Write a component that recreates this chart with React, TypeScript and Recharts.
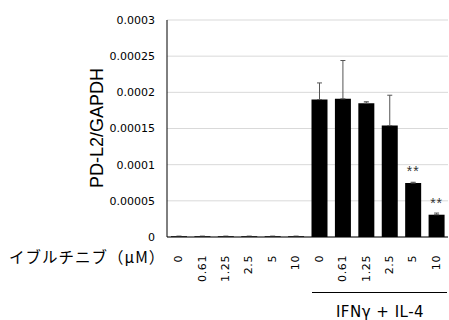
import { BarChart, Bar, XAxis, YAxis, CartesianGrid, ErrorBar, LabelList } from "recharts";

// ibrutinib dose per bar (two groups: no stimulation, IFNγ + IL-4)
const doses = ["0", "0.61", "1.25", "2.5", "5", "10", "0", "0.61", "1.25", "2.5", "5", "10"];
const ratio = [0.000001, 0.000001, 0.000001, 0.000001, 0.000001, 0.000001, 0.00019, 0.000191, 0.000185, 0.000154, 0.0000746, 0.0000308];
const errUp = [0, 0, 0, 0, 0, 0, 0.000023, 0.000053, 0.000002, 0.000042, 0.0000011, 0.0000023];
const sig = ["", "", "", "", "", "", "", "", "", "", "**", "**"];
const yTicks = [0, 0.00005, 0.0001, 0.00015, 0.0002, 0.00025, 0.0003];
const yTickLabels = ["0", "0.00005", "0.0001", "0.00015", "0.0002", "0.00025", "0.0003"];

const rows = doses.map((d, i) => ({
  key: "c" + i,
  dose: d,
  value: ratio[i],
  err: [0, errUp[i]],
  sig: sig[i],
}));

const tickFont = "'DejaVu Sans', sans-serif";

function DoseTick(props: any) {
  const { x, y, payload } = props;
  return (
    <text
      x={x}
      y={y}
      transform={`rotate(-90, ${x}, ${y})`}
      textAnchor="end"
      dominantBaseline="central"
      fontFamily={tickFont}
      fontSize={11}
      letterSpacing={0.6}
      fill="#000"
    >
      {doses[payload.index]}
    </text>
  );
}

function SigLabel(props: any) {
  const { x, y, width, value } = props;
  if (!value) return null;
  return (
    <text
      x={x + width / 2}
      y={y - 7}
      textAnchor="middle"
      fontFamily="'Liberation Sans', Arial, sans-serif"
      fontSize={14}
      letterSpacing={1}
      fill="#333"
    >
      {value}
    </text>
  );
}

export default function App() {
  return (
    <div style={{ position: "absolute", left: 0, top: 0, width: 449, height: 320, background: "#fff" }}>
      <BarChart
        width={449}
        height={320}
        data={rows}
        margin={{ top: 20, right: 1, bottom: 0, left: 0 }}
        barSize={16}
      >
        <CartesianGrid vertical={false} stroke="#d9d9d9" />
        <XAxis
          dataKey="key"
          height={83}
          axisLine={{ stroke: "#000" }}
          tickLine={false}
          tickSize={0}
          tickMargin={18}
          interval={0}
          tick={<DoseTick />}
        />
        <YAxis
          width={167}
          domain={[0, 0.0003]}
          ticks={yTicks}
          tickFormatter={(v: number) => yTickLabels[yTicks.indexOf(v)] ?? String(v)}
          axisLine={{ stroke: "#000" }}
          tickLine={false}
          tickSize={0}
          tickMargin={12}
          tick={{ fontFamily: tickFont, fontSize: 11, fill: "#000" }}
        />
        <Bar dataKey="value" fill="#000" isAnimationActive={false}>
          <ErrorBar dataKey="err" width={2.5} stroke="#555" strokeWidth={1} />
          <LabelList dataKey="sig" content={<SigLabel />} />
        </Bar>
      </BarChart>
      <svg width={449} height={320} style={{ position: "absolute", left: 0, top: 0, pointerEvents: "none" }}>
        <text
          x={97}
          y={128}
          transform="rotate(-90, 97, 128)"
          textAnchor="middle"
          dominantBaseline="central"
          fontFamily="'Liberation Sans', Arial, sans-serif"
          fontSize={18}
          fill="#000"
        >
          PD-L2/GAPDH
        </text>
        <text
          x={9}
          y={256}
          dominantBaseline="central"
          fontFamily="'Noto Sans CJK JP', sans-serif"
          fontSize={15.5}
          letterSpacing={1}
          fill="#000"
        >
          イブルチニブ（μM）
        </text>
        <line x1={312} x2={447} y1={292.5} y2={292.5} stroke="#000" strokeWidth={1} />
        <text
          x={380}
          y={317}
          textAnchor="middle"
          fontFamily={tickFont}
          fontSize={15}
          letterSpacing={0.5}
          fill="#000"
        >
          IFNγ  + IL-4
        </text>
      </svg>
    </div>
  );
}
